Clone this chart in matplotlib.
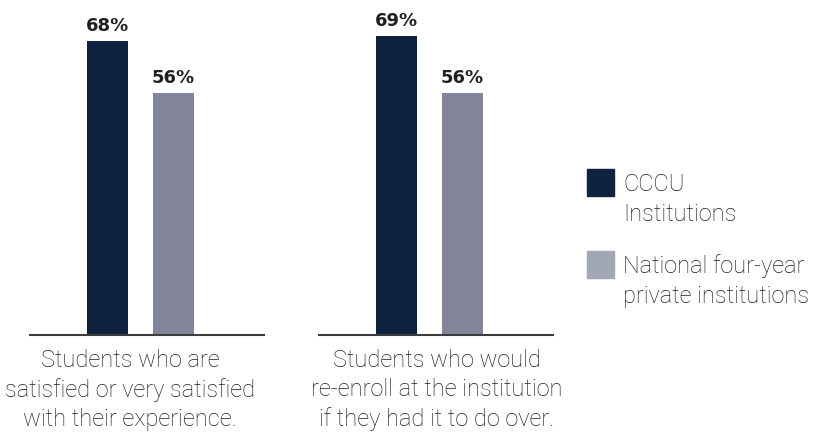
import matplotlib.pyplot as plt
from matplotlib.patches import Rectangle

categories = ["Students who are\nsatisfied or very satisfied\nwith their experience.",
              "Students who would\nre-enroll at the institution\nif they had it to do over."]
series_names = ["CCCU\nInstitutions", "National four-year\nprivate institutions"]
cccu = [68, 69]
national = [56, 56]

bar_colors = ["#0f2240", "#82849a"]
legend_colors = ["#0f2240", "#a2a8b3"]
text_color = "#1e1e1e"
pct_color = "#231f20"
label_font = "Roboto"

W, H = 822, 434
fig = plt.figure(figsize=(W / 100, H / 100), dpi=100)

# bar area: baseline at 335 px from top, spans x 23..560 px
ax = fig.add_axes([23 / W, (H - 335) / H, (560 - 23) / W, 335 / H])
ax.set_xlim(-0.407, 1.452)
ax.set_ylim(0, 77.4)
ax.axis("off")

offset = 0.114
width = 0.142
xs = list(range(len(categories)))
ax.bar([x - offset for x in xs], cccu, width, color=bar_colors[0])
ax.bar([x + offset for x in xs], national, width, color=bar_colors[1])

for vals, sign in [(cccu, -1), (national, 1)]:
    for x, v in zip(xs, vals):
        ax.annotate(f"{v}%", (x + sign * offset, v), xytext=(0, 10), textcoords="offset pixels",
                    ha="center", va="baseline", fontsize=13, fontweight="bold",
                    family="DejaVu Sans", color=pct_color)

# va="baseline" anchors the last line of a multi-line text
label_shift = [-0.036, 0.026]
for x, cat, dx in zip(xs, categories, label_shift):
    ax.hlines(0, x - 0.386, x + 0.43, color="#3c3c3c", lw=1.5, clip_on=False)
    ax.annotate(cat, (x + dx, H - 426), xycoords=("data", "figure pixels"), ha="center",
                va="baseline", multialignment="center", fontsize=17, fontweight="light",
                family=label_font, color=text_color, linespacing=1.32, annotation_clip=False)

# legend
for i, (name, col) in enumerate(zip(series_names, legend_colors)):
    top = 169 + i * 81.5
    fig.add_artist(Rectangle((587 / W, (H - top - 27) / H), 27 / W, 27 / H,
                             transform=fig.transFigure, color=col))
    fig.text(623 / W, (H - top - 52) / H, name, ha="left", va="baseline", fontsize=17,
             fontweight="light", family=label_font, color=text_color, linespacing=1.38)

fig.savefig("out.png", dpi=100)
